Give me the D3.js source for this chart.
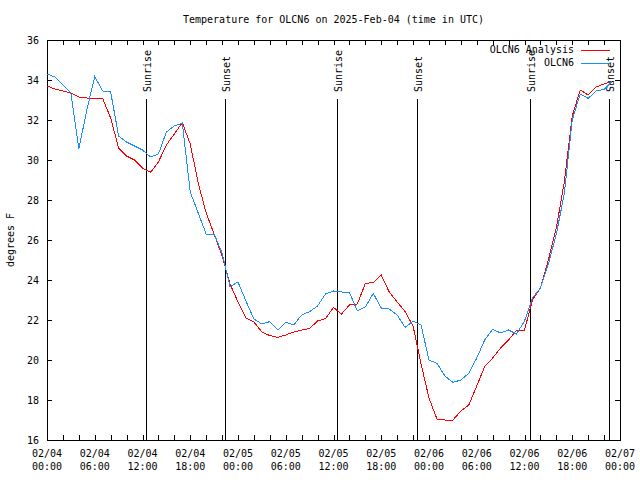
<!DOCTYPE html>
<html><head><meta charset="utf-8">
<script src="https://cdn.jsdelivr.net/npm/d3@7"></script>
<style>
body{margin:0;background:#fff}
text{font-family:"DejaVu Sans Mono","Liberation Mono",monospace;font-size:10px;fill:#000}
</style>
</head><body>
<svg id="c" width="640" height="480"></svg>
<script>
const chartTitle = "Temperature for OLCN6 on 2025-Feb-04 (time in UTC)";
const yTitle = "degrees F";
const seriesNames = ["OLCN6 Analysis", "OLCN6"];
const seriesColors = ["#ff0000", "#1a8cff"];
const startTime = Date.UTC(2025, 1, 4, 0);
const endTime = Date.UTC(2025, 1, 7, 0);
const hours = [0,1,2,3,4,5,6,7,8,9,10,11,12,13,14,15,16,17,18,19,20,21,22,23,
  24,25,26,27,28,29,30,31,32,33,34,35,36,37,38,39,40,41,42,43,44,45,46,47,
  48,49,50,51,52,53,54,55,56,57,58,59,60,61,62,63,64,65,66,67,68,69,70,71];
const analysis = [33.7,33.55,33.45,33.35,33.15,33.1,33.08,33.07,32.1,30.6,30.2,30.0,
  29.6,29.38,29.9,30.75,31.3,31.87,30.8,28.85,27.35,26.3,25.2,23.8,
  22.9,22.1,21.9,21.4,21.22,21.13,21.25,21.4,21.5,21.58,21.95,22.07,
  22.63,22.3,22.75,22.8,23.83,23.87,24.25,23.4,22.9,22.42,21.7,19.8,
  18.1,17.05,17.0,17.0,17.45,17.75,18.7,19.67,20.1,20.6,21.0,21.5,
  21.5,23.0,23.6,25.0,26.6,28.9,32.2,33.5,33.25,33.65,33.8,33.92];
const observed = [34.3,34.15,33.75,33.35,30.55,32.5,34.17,33.45,33.4,31.2,30.9,30.7,
  30.5,30.15,30.3,31.4,31.7,31.85,28.4,27.35,26.3,26.3,25.35,23.67,
  23.9,22.95,22.05,21.8,21.92,21.5,21.9,21.75,22.25,22.42,22.7,23.3,
  23.45,23.4,23.38,22.45,22.65,23.33,22.6,22.55,22.25,21.63,21.95,21.75,
  20.0,19.83,19.2,18.88,19.0,19.33,20.1,21.0,21.53,21.35,21.5,21.3,
  21.95,23.1,23.6,24.8,26.3,28.3,32.0,33.3,33.08,33.45,33.53,33.92];
const eventLabels = ["Sunrise","Sunset","Sunrise","Sunset","Sunrise","Sunset"];
const eventHours = [12.40, 22.37, 36.48, 46.53, 60.63, 70.66];
const yTicks = [16,18,20,22,24,26,28,30,32,34,36];
const xTickStepHours = 2;
const xLabelStepHours = 6;

(function () {
const svg = d3.select("#c");
const W = 640, H = 480;
const pL = 47, pR = 620, pT = 40, pB = 440;
const HOUR = 3600e3;

const x = d3.scaleUtc().domain([new Date(startTime), new Date(endTime)]).range([pL, pR]);
const y = d3.scaleLinear().domain([16, 36]).range([pB, pT]);

svg.append("rect").attr("width", W).attr("height", H).attr("fill", "#fff");

svg.append("text").attr("x", (pL + pR) / 2).attr("y", 19).attr("text-anchor", "middle")
  .attr("dominant-baseline", "central").text(chartTitle);

svg.append("text").attr("transform", `translate(10,${(pT + pB) / 2}) rotate(-90)`)
  .attr("text-anchor", "middle").attr("dominant-baseline", "central").text(yTitle);

const xTicks = d3.utcHour.every(xTickStepHours).range(new Date(startTime), new Date(endTime + 1));
const xLabelTicks = xTicks.filter(d => ((d - startTime) / HOUR) % xLabelStepHours === 0);

const axG = svg.append("g").attr("shape-rendering", "crispEdges");
axG.append("g").attr("transform", `translate(0,${pB})`)
  .call(d3.axisBottom(x).tickValues(xTicks).tickSizeInner(-5).tickSizeOuter(0).tickFormat(""))
  .call(g => g.select(".domain").remove());
axG.append("g").attr("transform", `translate(0,${pT})`)
  .call(d3.axisTop(x).tickValues(xTicks).tickSizeInner(-5).tickSizeOuter(0).tickFormat(""))
  .call(g => g.select(".domain").remove());
axG.append("g").attr("transform", `translate(${pL},0)`)
  .call(d3.axisLeft(y).tickValues(yTicks).tickSizeInner(-5).tickSizeOuter(0).tickPadding(8).tickFormat(d3.format("d")))
  .call(g => g.select(".domain").remove())
  .call(g => g.selectAll("text").attr("dy", null).attr("dominant-baseline", "central"));
axG.append("g").attr("transform", `translate(${pR},0)`)
  .call(d3.axisRight(y).tickValues(yTicks).tickSizeInner(-5).tickSizeOuter(0).tickFormat(""))
  .call(g => g.select(".domain").remove());
axG.selectAll("g").attr("font-size", null).attr("font-family", null);
axG.selectAll(".tick line").attr("stroke", "#000");

const fmtDate = d3.utcFormat("%m/%d"), fmtTime = d3.utcFormat("%H:%M");
const xl = svg.append("g").selectAll("g").data(xLabelTicks).join("g")
  .attr("transform", d => `translate(${x(d)},0)`);
xl.append("text").attr("y", 453).attr("text-anchor", "middle").attr("dominant-baseline", "central").text(d => fmtDate(d));
xl.append("text").attr("y", 466).attr("text-anchor", "middle").attr("dominant-baseline", "central").text(d => fmtTime(d));

axG.append("rect").attr("x", pL + 0.5).attr("y", pT + 0.5)
  .attr("width", pR - pL).attr("height", pB - pT)
  .attr("fill", "none").attr("stroke", "#000");

const ev = svg.append("g").selectAll("g").data(eventHours.map((h, i) => ({h, label: eventLabels[i]})))
  .join("g");
const ex = d => Math.round(x(new Date(startTime + d.h * HOUR)));
ev.append("line").attr("shape-rendering", "crispEdges")
  .attr("x1", d => ex(d) + 0.5).attr("x2", d => ex(d) + 0.5)
  .attr("y1", 99).attr("y2", pB).attr("stroke", "#000");
ev.append("text")
  .attr("transform", d => `translate(${ex(d) + 5},92) rotate(-90)`)
  .attr("text-anchor", "start").text(d => d.label);

const line = d3.line().x(d => x(new Date(startTime + d[0] * HOUR))).y(d => y(d[1]));
const series = [analysis, observed];
series.forEach((vals, i) => {
  svg.append("path").datum(hours.map((h, j) => [h, vals[j]]))
    .attr("d", line).attr("fill", "none").attr("stroke", seriesColors[i])
    .attr("stroke-width", 1).attr("shape-rendering", "crispEdges");
});

seriesNames.forEach((name, i) => {
  const ly = 49.5 + i * 13;
  svg.append("text").attr("x", 574).attr("y", ly).attr("text-anchor", "end")
    .attr("dominant-baseline", "central").text(name);
  svg.append("line").attr("x1", 581).attr("x2", 610).attr("y1", Math.round(ly) + 0.5).attr("y2", Math.round(ly) + 0.5)
    .attr("stroke", seriesColors[i]).attr("shape-rendering", "crispEdges");
});
})();
</script>
</body></html>
